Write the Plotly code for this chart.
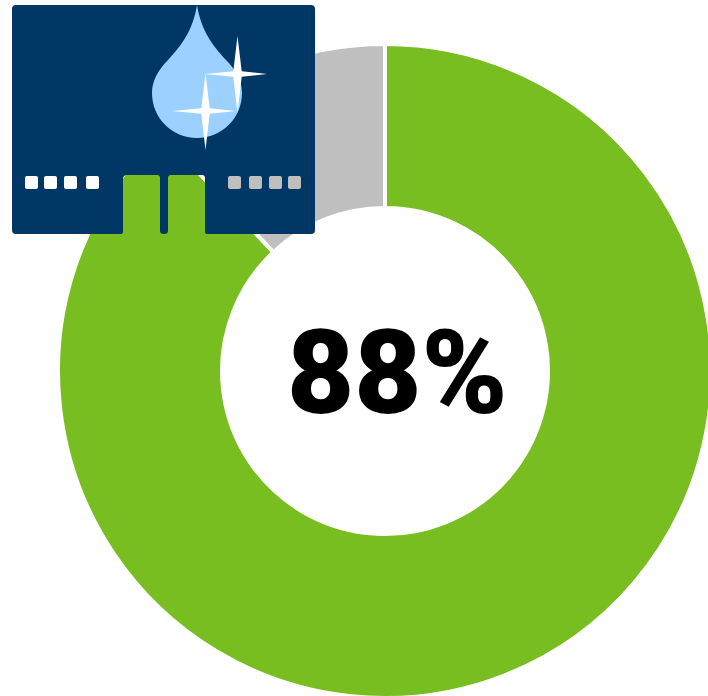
import plotly.graph_objects as go

# Share of the total shown on the ring
labels = ["Achieved", "Remaining"]
values = [88, 12]
slice_colors = ["#78BE20", "#BFBFBF"]
center_label = "88%"

W, H = 716, 700
NAVY = "#003764"
DROP = "#9BD0FF"
WHITE_DOTS = [25, 44, 64, 86]
GREY_DOTS = [228, 249, 269, 288]


def px(x, y):
    return f"{x / W:.5f},{1 - y / H:.5f}"


def path(*cmds):
    # Each command is either a letter or an (x, y) pixel pair
    out = []
    for c in cmds:
        out.append(c if isinstance(c, str) else px(*c))
    return " ".join(out)


def shape(d, color):
    return dict(type="path", path=d, xref="paper", yref="paper", fillcolor=color,
                line=dict(width=0), layer="above")


def star(cx, cy, left, right, top, bottom, wx=4.2, wy=2.8):
    return path("M", (cx, top), "L", (cx + wx, cy - wy), "L", (right, cy),
                "L", (cx + wx, cy + wy), "L", (cx, bottom),
                "L", (cx - wx, cy + wy), "L", (left, cy),
                "L", (cx - wx, cy - wy), "Z")


def dot(x, color, size=13, top=176):
    r = 2
    return shape(path("M", (x + r, top), "L", (x + size - r, top),
                      "Q", (x + size, top), (x + size, top + r),
                      "L", (x + size, top + size - r),
                      "Q", (x + size, top + size), (x + size - r, top + size),
                      "L", (x + r, top + size),
                      "Q", (x, top + size), (x, top + size - r),
                      "L", (x, top + r),
                      "Q", (x, top), (x + r, top), "Z"), color)


# Card outline with the two slots cut out of its lower edge
card = path("M", (16, 5), "L", (311, 5), "Q", (315, 5), (315, 9),
            "L", (315, 230), "Q", (315, 234), (311, 234),
            "L", (207, 234), "Q", (205, 234), (205, 232), "L", (205, 178),
            "Q", (205, 175), (202, 175),
            "L", (171, 175), "Q", (168, 175), (168, 178), "L", (168, 231),
            "Q", (168, 234), (164, 234), "Q", (160, 234), (160, 231),
            "L", (160, 178), "Q", (160, 175), (157, 175),
            "L", (127, 175), "Q", (123, 175), (123, 179), "L", (123, 232),
            "Q", (123, 234), (121, 234),
            "L", (16, 234), "Q", (12, 234), (12, 230),
            "L", (12, 9), "Q", (12, 5), (16, 5), "Z")

drop = path("M", (197, 5), "C", (193, 30), (182, 45), (168, 60),
            "C", (158, 70), (152, 81), (152, 93),
            "C", (152, 118), (172, 138), (197, 138),
            "C", (222, 138), (242, 118), (242, 93),
            "C", (242, 81), (236, 70), (226, 60),
            "C", (212, 45), (201, 30), (197, 5), "Z")

shapes = [shape(card, NAVY), shape(drop, DROP),
          shape(star(237.5, 74, 205, 267, 36, 113), "#FFFFFF"),
          shape(star(205.5, 111, 172, 236, 73, 150), "#FFFFFF")]
shapes += [dot(x, "#FFFFFF") for x in WHITE_DOTS]
shapes += [dot(x, "#BFBFBF") for x in GREY_DOTS]

# The ring's outer 2px is covered by its white border, so the domain runs slightly wider
fig = go.Figure(go.Pie(
    labels=labels, values=values, hole=163 / 327, sort=False, direction="clockwise",
    rotation=0, textinfo="none", hoverinfo="none", showlegend=False,
    marker=dict(colors=slice_colors, line=dict(color="#FFFFFF", width=4)),
    domain=dict(x=[58 / W, 712 / W], y=[(H - 698) / H, (H - 44) / H]),
))

fig.update_layout(
    width=W, height=H, margin=dict(l=0, r=0, t=0, b=0),
    paper_bgcolor="#FFFFFF", showlegend=False, shapes=shapes,
    annotations=[dict(text=center_label, x=397.5 / W, y=1 - 372.5 / H,
                      xref="paper", yref="paper", showarrow=False,
                      xanchor="center", yanchor="middle",
                      font=dict(family="Roboto", weight=900, size=116, color="#000000"))],
)

fig.write_html("out.html", config=dict(displayModeBar=False),
               post_script="document.documentElement.style.overflow='hidden';document.body.style.overflow='hidden';")
